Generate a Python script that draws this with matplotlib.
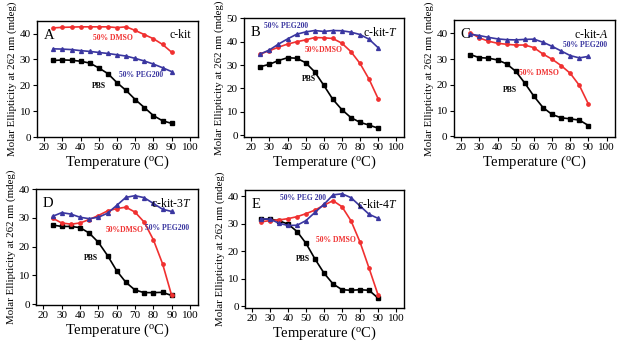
import matplotlib
matplotlib.use('Agg')
import matplotlib.pyplot as plt

plt.rcParams['font.family'] = 'Liberation Serif'
plt.rcParams['mathtext.fontset'] = 'custom'
plt.rcParams['mathtext.rm'] = 'Liberation Serif'
plt.rcParams['mathtext.it'] = 'Liberation Serif:italic'

temp = [25, 30, 35, 40, 45, 50, 55, 60, 65, 70, 75, 80, 85, 90]

# c-kit
a_pbs  = [29.6, 29.8, 29.7, 29.3, 28.6, 26.7, 24.5, 21.0, 18.0, 14.5, 11.4, 8.3, 6.3, 5.3]
a_dmso = [42.2, 42.4, 42.5, 42.6, 42.6, 42.6, 42.6, 42.3, 42.6, 41.2, 39.6, 38.0, 35.8, 32.8]
a_peg  = [34.1, 34.0, 33.8, 33.4, 33.1, 32.7, 32.3, 31.8, 31.3, 30.4, 29.4, 28.2, 26.8, 25.3]
# c-kit-T
b_pbs  = [29.3, 30.3, 31.9, 33.1, 32.9, 31.0, 27.1, 21.4, 15.4, 11.0, 7.6, 5.6, 4.4, 3.1]
b_dmso = [34.7, 36.1, 37.6, 38.9, 39.9, 40.7, 41.7, 41.6, 41.3, 39.3, 35.7, 30.7, 24.0, 15.7]
b_peg  = [34.7, 36.4, 38.9, 41.1, 43.1, 44.1, 44.7, 44.3, 44.7, 44.6, 44.0, 43.0, 41.0, 37.4]
# c-kit-A
c_pbs  = [31.8, 30.6, 30.4, 29.7, 28.2, 25.3, 20.7, 15.6, 11.2, 8.5, 7.2, 6.8, 6.3, 4.2]
c_dmso = [40.3, 38.3, 37.0, 36.2, 35.8, 35.5, 35.5, 34.5, 32.0, 30.0, 27.5, 24.5, 19.8, 12.5]
c_peg  = [39.7, 39.2, 38.5, 37.9, 37.6, 37.5, 37.7, 37.8, 36.6, 35.0, 33.2, 31.4, 30.5, 31.1]
# c-kit-3T
d_pbs  = [27.5, 27.0, 27.0, 26.6, 24.7, 21.5, 16.9, 11.6, 7.6, 4.9, 4.0, 4.0, 4.1, 3.0]
d_dmso = [29.9, 28.2, 27.8, 28.2, 29.4, 30.8, 32.4, 33.2, 33.7, 32.0, 28.5, 22.4, 14.1, 3.0]
d_peg  = [30.5, 31.8, 31.3, 30.2, 29.7, 30.2, 31.6, 34.3, 37.1, 37.7, 37.0, 35.0, 33.0, 32.2]
# c-kit-4T
e_pbs  = [31.6, 31.6, 31.0, 29.8, 27.1, 22.8, 17.1, 12.0, 8.1, 6.0, 5.8, 6.0, 5.8, 3.0]
e_dmso = [30.6, 31.1, 31.3, 31.8, 32.5, 33.6, 34.9, 36.7, 38.3, 36.1, 31.0, 23.3, 13.9, 4.2]
e_peg  = [31.7, 31.6, 30.1, 29.3, 29.4, 31.1, 34.1, 37.0, 40.4, 40.8, 39.4, 36.4, 33.4, 31.9]

RED = '#f03030'
BLUE = '#3a36a0'

panels = [
    # rect, letter, title, data, ylim, yticks, labels (text, x, y)
    ([0.0585, 0.598, 0.254, 0.340], 'A', 'c-kit', (a_pbs, a_dmso, a_peg),
     (0, 44.8), [0, 10, 20, 30, 40],
     [('50% DMSO', 58, 38.3), ('50% PEG200', 73, 24.0), ('PBS', 50, 19.6)]),
    ([0.3855, 0.598, 0.253, 0.349], 'B', r'c-kit-$\it{T}$', (b_pbs, b_dmso, b_peg),
     (-0.7, 50), [0, 10, 20, 30, 40, 50],
     [('50% PEG200', 39, 46.6), ('50%DMSO', 60, 36.4), ('PBS', 52, 23.9)]),
    ([0.717, 0.598, 0.254, 0.343], 'C', r'c-kit-$\it{A}$', (c_pbs, c_dmso, c_peg),
     (-0.3, 45.2), [0, 10, 20, 30, 40],
     [('50% PEG200', 88, 35.7), ('50% DMSO', 63, 24.7), ('PBS', 46.6, 18.0)]),
    ([0.0569, 0.1056, 0.256, 0.340], 'D', r'c-kit-$\it{3T}$', (d_pbs, d_dmso, d_peg),
     (-0.3, 40), [0, 10, 20, 30, 40],
     [('50% PEG200', 87.4, 26.4), ('50%DMSO', 64.4, 25.6), ('PBS', 46, 16.1)]),
    ([0.387, 0.097, 0.251, 0.346], 'E', r'c-kit-4$\it{T}$', (e_pbs, e_dmso, e_peg),
     (-0.6, 42.2), [0, 10, 20, 30, 40],
     [('50% PEG 200', 48.3, 39.2), ('50% DMSO', 66.8, 24.1), ('PBS', 48.3, 17.1)]),
]

fig = plt.figure(figsize=(6.33, 3.41), dpi=100)

for rect, letter, title, (pbs, dmso, peg), ylim, yticks, labels in panels:
    ax = fig.add_axes(rect)
    ax.plot(temp, pbs, '-s', color='black', ms=2.6, lw=1.2)
    ax.plot(temp, dmso, '-o', color=RED, ms=2.4, lw=1.2)
    ax.plot(temp, peg, '-^', color=BLUE, ms=2.8, lw=1.2)
    ax.set_xlim(16, 104.4)
    ax.set_ylim(*ylim)
    ax.set_xticks([20, 30, 40, 50, 60, 70, 80, 90, 100])
    ax.set_yticks(yticks)
    ax.tick_params(labelsize=8, length=3, width=0.8, pad=1.5)
    for s in ax.spines.values():
        s.set_linewidth(1.0)
    ax.set_xlabel(r'Temperature ($^{\mathrm{o}}$C)', fontsize=10.5, labelpad=1)
    ax.set_ylabel('Molar Ellipticity at 262 nm (mdeg)', fontsize=7.8, labelpad=2)
    ax.text(0.04, 0.93, letter, transform=ax.transAxes, fontsize=10.5, va='top', ha='left')
    ax.text(0.96, 0.93, title, transform=ax.transAxes, fontsize=8.5, va='top', ha='right')
    for txt, x, y in labels:
        c = 'black' if txt == 'PBS' else (RED if 'DMSO' in txt else BLUE)
        ax.text(x, y, txt, color=c, fontsize=5.5, fontweight='bold', ha='center', va='center')

fig.savefig('out.png', dpi=100)
